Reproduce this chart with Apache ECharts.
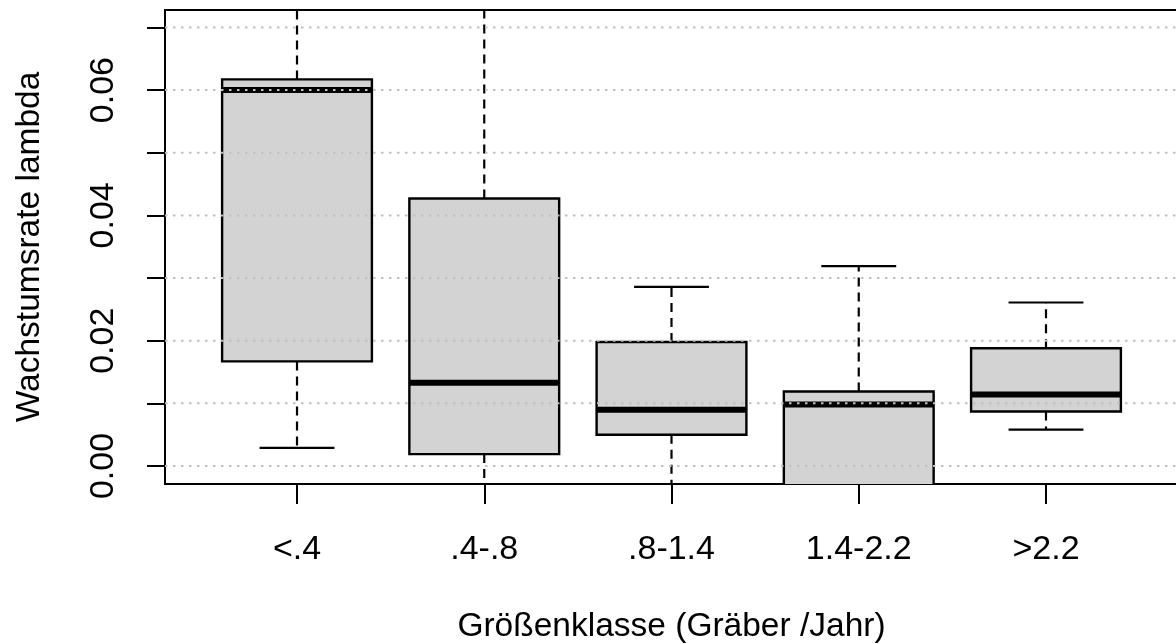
<!DOCTYPE html>
<html>
<head>
<meta charset="utf-8">
<script src="https://cdn.jsdelivr.net/npm/echarts@6/dist/echarts.min.js"></script>
<style>
  html, body { margin: 0; padding: 0; background: #fff; }
  #chart { width: 1176px; height: 644px; }
</style>
</head>
<body>
<div id="chart"></div>
<script>
// Kategorien und Boxplot-Kennwerte
var categories = ['<.4', '.4-.8', '.8-1.4', '1.4-2.2', '>2.2'];
var lowerWhisker = [0.0029, -0.0120, -0.0100, -0.0150, 0.0058];
var q1 = [0.0167, 0.0019, 0.0050, -0.0060, 0.0087];
var median = [0.0600, 0.0133, 0.0090, 0.0098, 0.0114];
var q3 = [0.0617, 0.0427, 0.0198, 0.0119, 0.0188];
var upperWhisker = [0.0900, 0.0850, 0.0286, 0.0319, 0.0261];
var yTicks = [0, 0.01, 0.02, 0.03, 0.04, 0.05, 0.06, 0.07];
var yLabels = [0, 0.02, 0.04, 0.06];
var gridValues = [0, 0.01, 0.02, 0.03, 0.04, 0.05, 0.06, 0.07];

var font = 'Liberation Sans, Arial, sans-serif';

var boxData = categories.map(function (c, i) {
    return [i + 1, lowerWhisker[i], q1[i], median[i], q3[i], upperWhisker[i]];
});

function renderBox(params, api) {
    var x = api.value(0);
    var pLo = api.coord([x, api.value(1)]);
    var pQ1 = api.coord([x, api.value(2)]);
    var pMed = api.coord([x, api.value(3)]);
    var pQ3 = api.coord([x, api.value(4)]);
    var pHi = api.coord([x, api.value(5)]);
    var halfW = api.size([0.4, 0])[0];
    var halfCap = api.size([0.2, 0])[0];
    var cx = pMed[0];
    var dash = { stroke: '#000', lineWidth: 2.2, lineDash: [9, 6] };
    var solid = { stroke: '#000', lineWidth: 2.2 };
    return {
        type: 'group',
        children: [
            { type: 'line', shape: { x1: cx, y1: pQ3[1], x2: cx, y2: pHi[1] }, style: dash },
            { type: 'line', shape: { x1: cx, y1: pQ1[1], x2: cx, y2: pLo[1] }, style: dash },
            { type: 'line', shape: { x1: cx - halfCap, y1: pHi[1], x2: cx + halfCap, y2: pHi[1] }, style: solid },
            { type: 'line', shape: { x1: cx - halfCap, y1: pLo[1], x2: cx + halfCap, y2: pLo[1] }, style: solid },
            {
                type: 'rect',
                shape: { x: cx - halfW, y: pQ3[1], width: halfW * 2, height: pQ1[1] - pQ3[1] },
                style: { fill: '#D3D3D3', stroke: '#000', lineWidth: 2.4 }
            },
            { type: 'line', shape: { x1: cx - halfW, y1: pMed[1], x2: cx + halfW, y2: pMed[1] }, style: { stroke: '#000', lineWidth: 6 } }
        ]
    };
}

function renderGrid(params, api) {
    var cs = params.coordSys;
    var y = api.coord([1, api.value(0)])[1];
    return {
        type: 'line',
        shape: { x1: cs.x, y1: y, x2: cs.x + cs.width, y2: y },
        style: { stroke: '#C0C0C0', lineWidth: 2, lineDash: [2.5, 5.5] }
    };
}

var myChart = echarts.init(document.getElementById('chart'));
myChart.setOption({
    animation: false,
    backgroundColor: '#fff',
    grid: {
        left: 165,
        right: -2,
        top: 10,
        bottom: 160,
        outerBoundsMode: 'none',
        show: true,
        borderColor: '#000',
        borderWidth: 2,
        backgroundColor: 'transparent'
    },
    xAxis: {
        type: 'value',
        min: 0.295,
        max: 5.705,
        name: 'Größenklasse (Gräber /Jahr)',
        nameLocation: 'middle',
        nameGap: 126,
        nameTextStyle: { fontFamily: font, fontSize: 33.5, color: '#000' },
        axisLine: { show: true, onZero: false, lineStyle: { color: '#000', width: 2 } },
        axisTick: { show: true, length: 20, customValues: [1, 2, 3, 4, 5], lineStyle: { color: '#000', width: 2 } },
        axisLabel: {
            customValues: [1, 2, 3, 4, 5],
            margin: 49,
            fontFamily: font,
            fontSize: 34,
            color: '#000',
            formatter: function (v) { return categories[Math.round(v) - 1]; }
        },
        splitLine: { show: false }
    },
    yAxis: {
        type: 'value',
        min: -0.00287,
        max: 0.07278,
        name: 'Wachstumsrate lambda',
        nameLocation: 'middle',
        nameRotate: 90,
        nameGap: 118,
        nameTextStyle: { fontFamily: font, fontSize: 33.5, color: '#000' },
        axisLine: { show: true, onZero: false, lineStyle: { color: '#000', width: 2 } },
        axisTick: { show: true, length: 18, customValues: yTicks, lineStyle: { color: '#000', width: 2 } },
        axisLabel: {
            customValues: yLabels,
            rotate: 90,
            margin: 44,
            fontFamily: font,
            fontSize: 34,
            color: '#000',
            formatter: function (v) { return v.toFixed(2); }
        },
        splitLine: { show: false }
    },
    series: [
        {
            type: 'custom',
            name: 'box',
            renderItem: renderBox,
            clip: true,
            z: 2,
            encode: { x: 0, y: [1, 2, 3, 4, 5] },
            data: boxData
        },
        {
            type: 'custom',
            name: 'grid',
            renderItem: renderGrid,
            clip: true,
            z: 3,
            silent: true,
            encode: { y: 0 },
            data: gridValues.map(function (v) { return [v]; })
        }
    ]
});
</script>
</body>
</html>
